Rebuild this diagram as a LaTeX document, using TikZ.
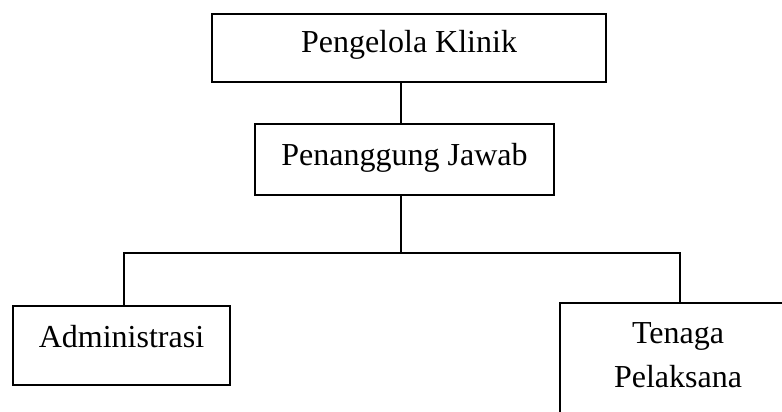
\documentclass[tikz,border=0pt]{standalone}
\usepackage{fontspec}
\setmainfont{Liberation Serif}
\begin{document}
\begin{tikzpicture}[x=1pt,y=-1pt,
  orgbox/.style={draw, line width=1.6pt, inner sep=0pt, outer sep=0pt,
    anchor=base, font=\fontsize{32}{44}\selectfont},
  link/.style={line width=1.6pt}]
\clip (0,0) rectangle (782,412);
\fill[white] (0,0) rectangle (782,412);
% boxes
\node[orgbox, minimum width=394pt, text height=39.2pt, text depth=29.2pt] (top) at (409,53) {Pengelola Klinik};
\node[orgbox, minimum width=299pt, text height=41.2pt, text depth=30.2pt] (pj) at (404.5,165) {Penanggung Jawab};
\node[orgbox, minimum width=217pt, text height=41.2pt, text depth=38.2pt] (adm) at (121.5,347) {Administrasi};
\node[orgbox, minimum width=236pt, minimum height=130pt, anchor=north west] (ten) at (560,303) {};
\node[anchor=north, inner sep=0pt, align=center, font=\fontsize{32}{44}\selectfont] (tentxt) at (678,322) {Tenaga\\Pelaksana};
% connectors
\coordinate (j) at (401,253);
\draw[link] (top.south -| j) -- (pj.north -| j);
\draw[link] (pj.south -| j) -- (j);
\draw[link] ([xshift=2.5pt]adm.north) |- (j);
\draw[link] (j) -| (ten.north -| 680,0);
\end{tikzpicture}
\end{document}
